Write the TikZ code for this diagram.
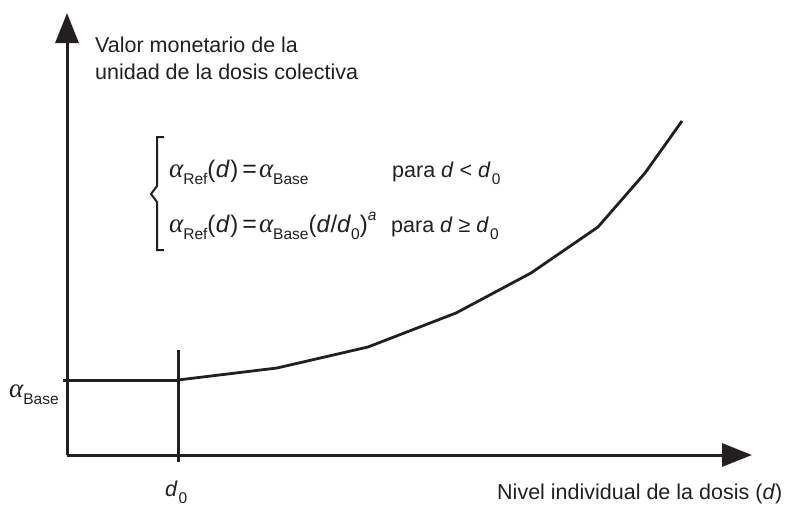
\documentclass[tikz,border=0pt]{standalone}
\usepackage{fontspec}
\setmainfont{Liberation Sans}
\newfontfamily\serifgreek{Liberation Serif}
\usetikzlibrary{arrows.meta}
\definecolor{ink}{RGB}{35,31,32}
\newcommand{\al}{{\serifgreek\itshape\fontsize{27}{27}\selectfont α}}
\newcommand{\sbs}[1]{\raisebox{-0.33em}{\fontsize{15.5}{15.5}\selectfont #1}}
\newcommand{\sps}[1]{\raisebox{0.52em}{\fontsize{15.5}{15.5}\selectfont #1}}
\newcommand{\eqs}{\kern4pt{\fontsize{25}{25}\selectfont =}\kern2pt}
\newcommand{\bigp}[1]{{\fontsize{24}{24}\selectfont #1}}
\newcommand{\dd}{\textit{d}}
\tikzset{
  axis/.style={line width=3pt, draw=ink, -{Triangle[length=30pt,width=23pt]}},
  thick line/.style={line width=3pt, draw=ink},
  curve/.style={line width=2.8pt, draw=ink, line join=round},
  brace line/.style={line width=2pt, draw=ink},
  lbl/.style={inner sep=0pt, text=ink, font=\fontsize{21.5}{27}\selectfont, anchor=base west},
}
\begin{document}
\begin{tikzpicture}[x=1pt,y=-1pt]
\useasboundingbox (0,0) rectangle (798,506);
% axes
\coordinate (O) at (67,455);
\coordinate (ytip) at (67,13);
\coordinate (xtip) at (752,455);
\draw[axis] (O) -- (ytip);
\draw[axis] (O) -- (xtip);
% base level line and d0 marker
\coordinate (bl) at (63,380);
\coordinate (k) at (178,380);
\coordinate (dtop) at (178,350);
\coordinate (dbot) at (178,462);
\draw[thick line] (bl) -- (k);
\draw[thick line] (dtop) -- (dbot);
% curve
\coordinate (c1) at (277,368);
\coordinate (c2) at (368,347);
\coordinate (c3) at (456,313);
\coordinate (c4) at (531,273);
\coordinate (c5) at (598,227);
\coordinate (c6) at (645,173);
\coordinate (c7) at (682,121);
\draw[curve] (k) -- (c1) -- (c2) -- (c3) -- (c4) -- (c5) -- (c6) -- (c7);
% brace
\coordinate (b1) at (164,137);
\coordinate (b7) at (164,250);
\draw[brace line] (b1) -- (157,137) -- (157,186) -- (151,194) -- (157,202) -- (157,250) -- (b7);
% labels
\node[lbl] (ylab1) at (95,52) {Valor monetario de la};
\node[lbl] (ylab2) at (95,79) {unidad de la dosis colectiva};
\node[lbl] (xlab) at (497,499) {Nivel individual de la dosis (\dd)};
\node[lbl] (alab) at (9,397) {\al\sbs{Base}};
\node[lbl] (dlab) at (165,496) {\dd\kern1pt\sbs{0}};
\node[lbl] (eq1) at (169,177) {\al\sbs{Ref}\bigp{(\kern0.5pt\dd\kern0.5pt)}\eqs\al\sbs{Base}};
\node[lbl] (c1t) at (392,177) {para \dd\ <\ \dd\kern1pt\sbs{0}};
\node[lbl] (eq2) at (169,232) {\al\sbs{Ref}\bigp{(\kern0.5pt\dd\kern0.5pt)}\eqs\al\sbs{Base}\bigp{(\dd/\dd\sbs{0})}\sps{\textit{a}}};
\node[lbl] (c2t) at (391,232) {para \dd\ ≥\ \dd\kern1pt\sbs{0}};
\end{tikzpicture}
\end{document}
